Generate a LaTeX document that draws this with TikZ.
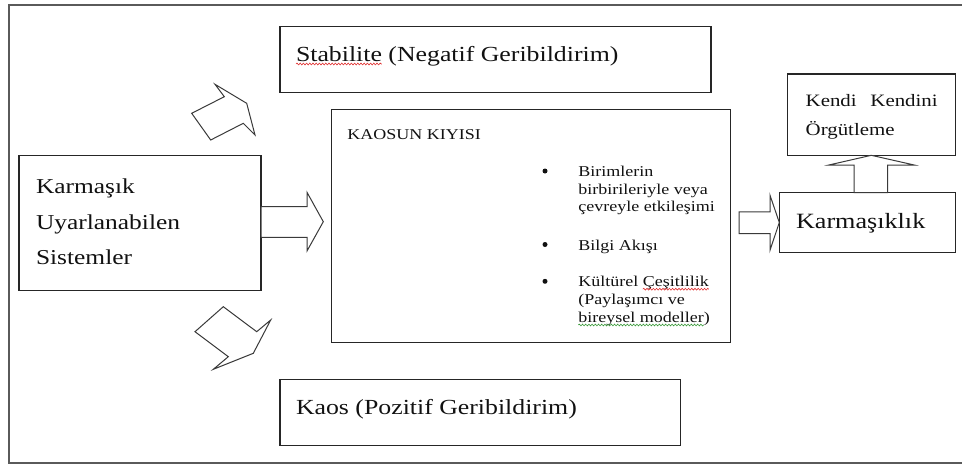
\documentclass[tikz,border=0pt]{standalone}
\usepackage{fontspec}
\setmainfont{Liberation Serif}[FakeStretch=1.2]
\usetikzlibrary{decorations.pathmorphing}
\definecolor{boxc}{HTML}{262626}
\definecolor{framec}{HTML}{5A5A5A}
\definecolor{arrc}{HTML}{3A3A3A}
\definecolor{txtc}{HTML}{111111}
\definecolor{spellred}{HTML}{E03030}
\definecolor{spellgreen}{HTML}{3A9A3A}
\newcommand\fsA{\fontsize{21.5}{26}\selectfont}
\newcommand\fsB{\fontsize{21.2}{26}\selectfont}
\newcommand\fsC{\fontsize{15}{18}\selectfont}
\newcommand\fsD{\fontsize{17.4}{21}\selectfont}
\newcommand\fsE{\fontsize{21.8}{26}\selectfont}
\begin{document}
\begin{tikzpicture}[x=1pt,y=-1pt,
  box/.style={draw=boxc,line width=1.4pt,inner sep=0pt,outer sep=0pt,anchor=north west},
  lbl/.style={anchor=base west,inner sep=0pt,outer sep=0pt,text=txtc},
  blk/.style={draw=arrc,line width=1pt,fill=white,line join=miter},
  bdot/.style={circle,fill=txtc,inner sep=0pt,minimum size=5pt},
  wave/.style={decorate,decoration={snake,amplitude=0.9pt,segment length=3.2pt},line width=0.6pt},
  frame/.style={draw=framec,line width=1.5pt}
]
\useasboundingbox (0,0) rectangle (962,464);
\draw[frame] (963,5) -- (9,5) -- (9,463) -- (963,463);

% boxes
\node[box,minimum width=431pt,minimum height=66pt] (stab) at (280,26.3) {};
\node[box,minimum width=242pt,minimum height=135pt] (kas) at (19,155.7) {};
\node[box,minimum width=399pt,minimum height=233pt] (edge) at (331.7,109.3) {};
\node[box,minimum width=400.7pt,minimum height=66.4pt] (kaos) at (280,379.3) {};
\node[box,minimum width=168pt,minimum height=81.3pt] (kendi) at (787.3,74) {};
\node[box,minimum width=176.4pt,minimum height=59.6pt] (karm) at (779.3,192.7) {};

% texts
\node[lbl,font=\fsA] (stabw) at (296,61) {Stabilite};
\node[lbl,font=\fsA] (stabr) at (stabw.base east) {\ (Negatif Geribildirim)};
\draw[wave,draw=spellred] ([yshift=-3pt]stabw.base west) -- ([yshift=-3pt]stabw.base east);

\node[lbl,font=\fsB] (kas1) at (36,193.3) {Karmaşık};
\node[lbl,font=\fsB] (kas2) at (36,229.3) {Uyarlanabilen};
\node[lbl,font=\fsB] (kas3) at (36,264.5) {Sistemler};

\node[lbl,font=\fsC] (ktitle) at (347.3,139) {KAOSUN KIYISI};
\node[bdot] (d1) at (545,171) {};
\node[bdot] (d2) at (545,244.5) {};
\node[bdot] (d3) at (545,281.3) {};
\node[lbl,font=\fsC] (b1a) at (578.3,176) {Birimlerin};
\node[lbl,font=\fsC] (b1b) at (578.3,194) {birbirileriyle veya};
\node[lbl,font=\fsC] (b1c) at (578.3,211.7) {çevreyle etkileşimi};
\node[lbl,font=\fsC] (b2a) at (578.3,250) {Bilgi Akışı};
\node[lbl,font=\fsC] (b3a) at (578.3,286.7) {Kültürel};
\node[lbl,font=\fsC] (b3w) at ([xshift=4.5pt]b3a.base east) {Çeşitlilik};
\draw[wave,draw=spellred] ([yshift=-2.5pt]b3w.base west) -- ([yshift=-2.5pt]b3w.base east);
\node[lbl,font=\fsC] (b3b) at (578.3,304.5) {(Paylaşımcı ve};
\node[lbl,font=\fsC] (b3c) at (578.3,322.5) {bireysel modeller};
\node[lbl,font=\fsC] (b3d) at (b3c.base east) {)};
\draw[wave,draw=spellgreen] ([yshift=-2.5pt]b3c.base west) -- ([yshift=-2.5pt]b3c.base east);

\node[lbl,font=\fsA] (kaost) at (296,414) {Kaos (Pozitif Geribildirim)};
\node[lbl,font=\fsD] (kk1) at (805.7,106.7) {\makebox[132pt][s]{Kendi Kendini}};
\node[lbl,font=\fsD] (kk2) at (805.7,135) {Örgütleme};
\node[lbl,font=\fsE] (karmt) at (796,228.3) {Karmaşıklık};

% block arrows
\draw[blk] (kas.east) ++(0,-16.5) -- ++(46,0) -- ++(0,-14.4) -- ++(16.3,29.4)
  -- ++(-16.3,29.3) -- ++(0,-13.7) -- ++(-46,0) -- cycle;
\draw[blk] (karm.west) -- ++(-9.3,-27.3) -- ++(0,16.7) -- ++(-31,0) -- ++(0,21.6)
  -- ++(31,0) -- ++(0,16.7) -- cycle;
\draw[blk] (kendi.south) -- ++(42.9,9.7) -- ++(-26.6,0) -- ++(0,27.7) -- ++(-33.4,0)
  -- ++(0,-27.7) -- ++(-25.3,0) -- cycle;
\draw[blk] (215,84.3) -- (246.7,103.3) -- (255,135) -- (243.3,123.3) -- (210.7,140)
  -- (191.7,113.3) -- (224.3,96.7) -- cycle;
\draw[blk] (223.3,306.7) -- (256.7,331.7) -- (270.7,320) -- (253.3,353.3) -- (213.3,369.3)
  -- (228.3,356.7) -- (195,331.7) -- cycle;
\end{tikzpicture}
\end{document}
